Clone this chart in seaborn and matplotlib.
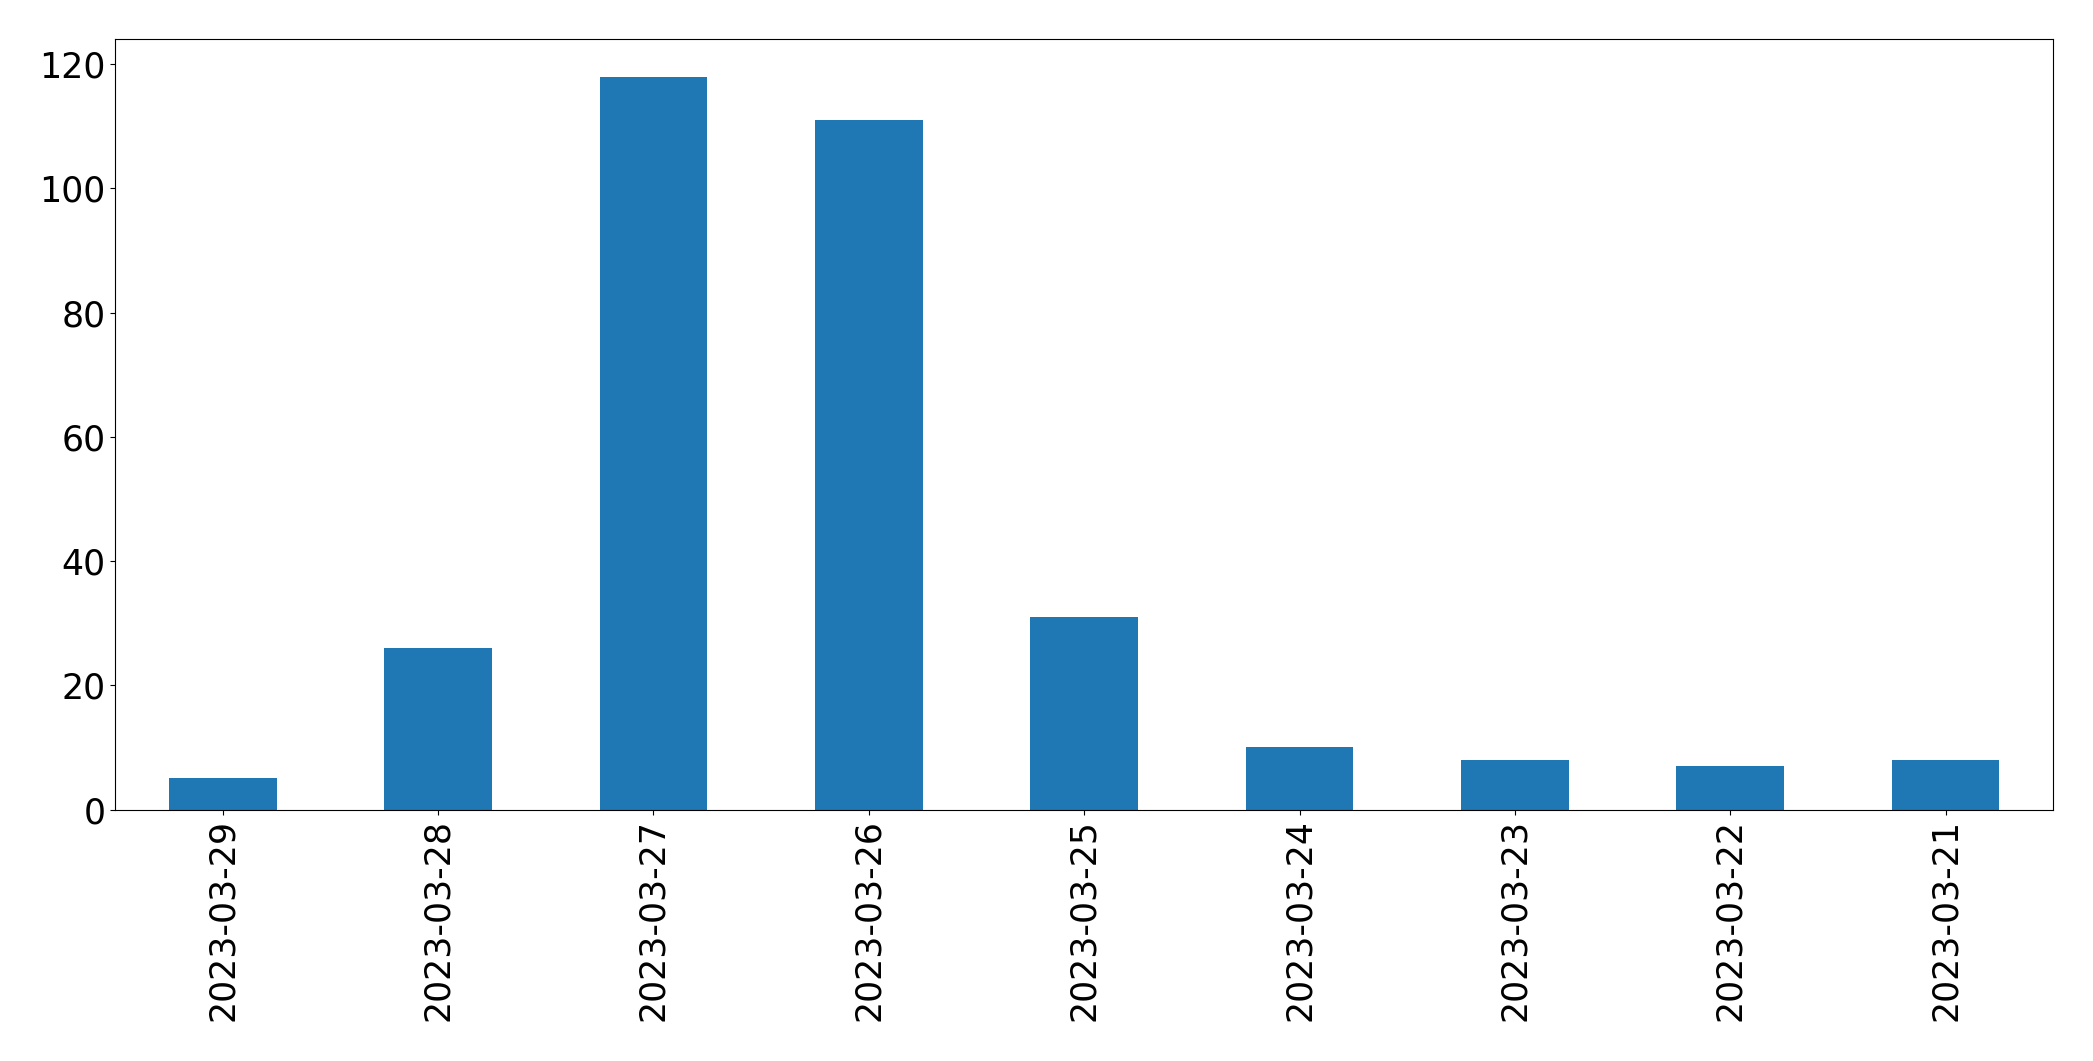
import numpy as np
import pandas as pd
import seaborn as sns
import matplotlib
matplotlib.use('Agg')
import matplotlib.pyplot as plt

dates = ['2023-03-29', '2023-03-28', '2023-03-27', '2023-03-26', '2023-03-25',
         '2023-03-24', '2023-03-23', '2023-03-22', '2023-03-21']
counts = [5, 26, 118, 111, 31, 10, 8, 7, 8]

df = pd.DataFrame({'date': dates, 'count': counts})

fig = plt.figure(figsize=(20.93, 10.61), dpi=100)
ax = fig.add_axes([0.055, 0.237, 0.926, 0.726])
sns.barplot(data=df, x='date', y='count', order=dates, color='#1f77b4',
            saturation=1, width=0.5, ax=ax)
ax.set_xlabel(None)
ax.set_ylabel(None)
ax.set_ylim(0, 124)
ax.set_yticks([0, 20, 40, 60, 80, 100, 120])
plt.xticks(rotation=90, fontsize=25)
plt.yticks(fontsize=25)
plt.savefig('out.png', dpi=100)
